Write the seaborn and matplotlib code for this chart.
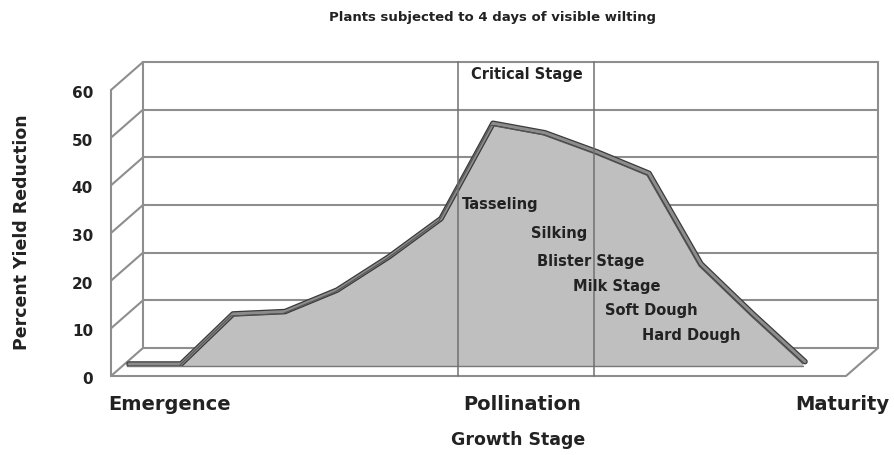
import numpy as np
import seaborn as sns
import matplotlib.pyplot as plt
from matplotlib.transforms import ScaledTranslation

# data
stage_index = np.arange(14)
yield_reduction = [0, 0, 10.5, 11, 15.5, 22.5, 30.5, 50.5, 48.5, 44.5, 40, 21, 10.5, 0.5]
stage_ticks = [0.52, 7.29, 13.45]
stage_labels = ['Emergence', 'Pollination', 'Maturity']
y_ticks = [0, 10, 20, 30, 40, 50, 60]
critical_bounds = [6.06, 8.67]
sub_stages = ['Tasseling', 'Silking', 'Blister Stage', 'Milk Stage', 'Soft Dough', 'Hard Dough']
sub_x = [6.13, 7.47, 7.57, 8.27, 8.89, 9.6]
sub_y = [30.0, 24.0, 18.1, 12.9, 7.8, 2.6]

sns.set_theme(style='white')
plt.rcParams['font.family'] = ['DejaVu Sans']

fig = plt.figure(figsize=(8.95, 4.55), dpi=100)
# axes box = back wall of the pseudo 3D chart
ax = fig.add_axes([143 / 895, 107 / 455, 735 / 895, 286 / 455])
xmax = 735 / 52
ax.set_xlim(0, xmax)
ax.set_ylim(0, 60)
for s in ax.spines.values():
    s.set_visible(False)

# pixel -> data unit helpers for the depth offsets
px_x = 1 / 52
px_y = 60 / 286
depth_x, depth_y = -32 * px_x, -28 * px_y     # front of the floor / side wall
area_x, area_y = -16 * px_x, -18 * px_y       # front face of the area

wall = dict(color='#8e8e8e', lw=1.5, clip_on=False)

# back wall grid + side wall diagonals
for v in y_ticks:
    ax.plot([0, xmax], [v, v], **wall)
    ax.plot([0, depth_x], [v, v + depth_y], **wall)
ax.plot([0, 0], [0, 60], **wall)
ax.plot([xmax, xmax], [0, 60], **wall)
ax.plot([depth_x, depth_x], [depth_y, 60 + depth_y], **wall)
# floor
ax.plot([depth_x, xmax + depth_x, xmax], [depth_y, depth_y, 0], **wall)

# area (front face) with a darker top band
xa = stage_index + area_x
ya = np.array(yield_reduction) + area_y
ax.fill_between(xa, area_y, ya, color='#bfbfbf', lw=0, clip_on=False, zorder=3)
bx = xa + 2 * px_x
by = ya + 2 * px_y
sns.lineplot(x=bx, y=by, color='#3a3a3a', lw=4, ax=ax, clip_on=False, zorder=4, sort=False)
sns.lineplot(x=bx, y=by, color='#8c8c8c', lw=2.2, ax=ax, clip_on=False, zorder=5, sort=False)
ax.plot(xa, ya, color='#555555', lw=0.8, clip_on=False, zorder=5)
ax.plot([xa[0], xa[-1]], [area_y, area_y], color='#777777', lw=1, clip_on=False, zorder=5)

# critical stage boundaries
for b in critical_bounds:
    ax.plot([b, b], [depth_y, 60], color='#707070', lw=1.1, clip_on=False, zorder=6)

txt = dict(fontweight='bold', color='#222222', zorder=7)
ax.text(7.38, 57.3, 'Critical Stage', ha='center', va='center', fontsize=10.5, **txt)
for name, sx, sy in zip(sub_stages, sub_x, sub_y):
    ax.text(sx, sy, name, ha='left', va='center', fontsize=10.5, **txt)

# ticks
ax.set_yticks(y_ticks)
ax.set_yticklabels([str(v) for v in y_ticks], fontweight='bold', fontsize=11, color='#222222')
ax.tick_params(axis='y', length=0, pad=36)
shift = ScaledTranslation(0, -0.30, fig.dpi_scale_trans)
for lab in ax.get_yticklabels():
    lab.set_transform(lab.get_transform() + shift)

ax.set_xticks(stage_ticks)
ax.set_xticklabels(stage_labels, fontweight='bold', fontsize=14, color='#222222')
ax.tick_params(axis='x', length=0, pad=34)

ax.set_xlabel('Growth Stage', fontweight='bold', fontsize=12.5, color='#222222')
ax.xaxis.set_label_coords((518 - 143) / 735, -(431 - 348) / 286)
ax.set_ylabel('Percent Yield Reduction', fontweight='bold', fontsize=12.5,
              color='#222222', va='center')
ax.yaxis.set_label_coords((22 - 143) / 735, (348 - 232) / 286)

fig.text(493 / 895, 1 - 17 / 455, 'Plants subjected to 4 days of visible wilting',
         ha='center', va='center', fontsize=9.5, fontweight='bold', color='#222222')

fig.savefig('out.png', dpi=100)
